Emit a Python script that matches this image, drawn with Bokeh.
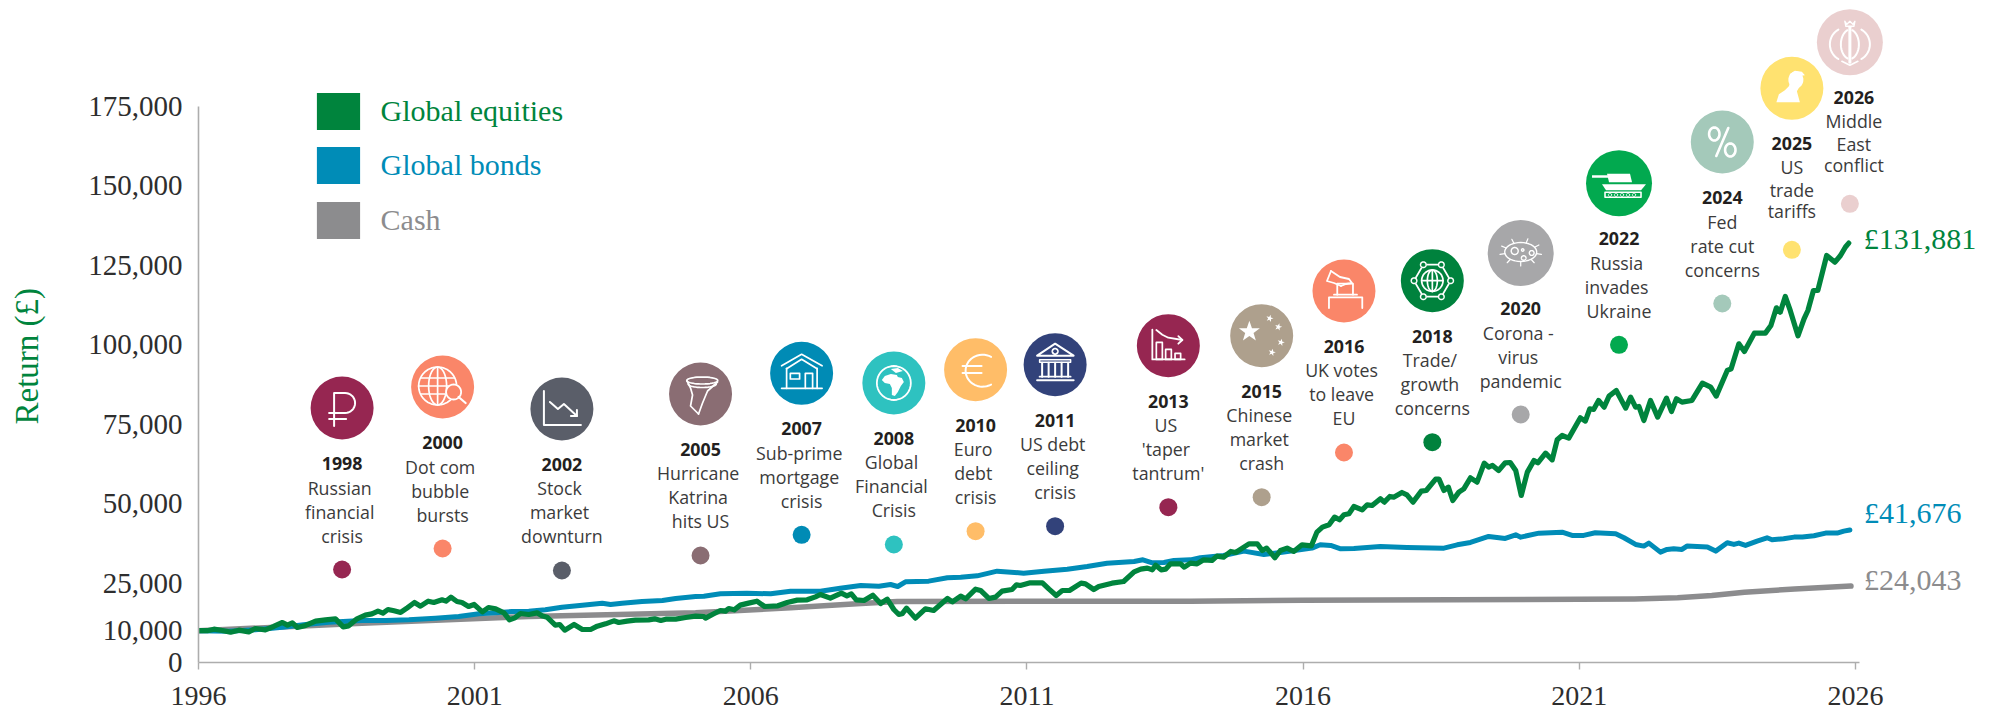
import math
from bokeh.plotting import figure
from bokeh.embed import file_html
from bokeh.resources import INLINE
from bokeh.core.properties import value
from bokeh.models import (ColumnDataSource, FixedTicker, Legend, LegendItem, NumeralTickFormatter,
                          PrintfTickFormatter, Range1d)

# ---------- series ----------
equity_years = [1996.00,1996.16,1996.28,1996.43,1996.58,1996.73,1996.91,1997.03,1997.21,1997.36,1997.52,1997.61,1997.70,1997.79,1997.94,
1998.12,1998.30,1998.48,1998.62,1998.72,1998.87,1999.02,1999.14,1999.25,1999.34,1999.43,1999.54,1999.66,1999.78,1999.91,
2000.02,2000.16,2000.26,2000.41,2000.48,2000.57,2000.68,2000.77,2000.89,2000.99,2001.14,2001.25,2001.38,2001.53,2001.63,2001.73,2001.83,2001.98,
2002.13,2002.22,2002.31,2002.46,2002.54,2002.63,2002.80,2002.95,2003.10,2003.22,2003.37,2003.52,2003.61,2003.76,2003.91,
2004.15,2004.26,2004.37,2004.46,2004.64,2004.82,2005.00,2005.15,2005.18,2005.33,2005.45,2005.54,2005.60,2005.70,2005.81,2005.96,
2006.11,2006.25,2006.49,2006.66,2006.84,2007.02,2007.17,2007.26,2007.44,2007.64,2007.74,2007.82,2007.91,
2008.05,2008.21,2008.35,2008.47,2008.59,2008.68,2008.74,2008.82,2008.98,2009.16,2009.31,2009.56,2009.65,2009.80,2009.89,
2010.07,2010.16,2010.31,2010.43,2010.55,2010.73,2010.81,2010.88,2011.06,2011.28,2011.40,2011.53,2011.64,2011.77,2011.98,
2012.06,2012.21,2012.30,2012.54,2012.75,2012.94,2013.06,2013.18,2013.27,2013.33,2013.43,2013.51,2013.60,2013.78,2013.85,2013.96,
2014.08,2014.20,2014.35,2014.44,2014.56,2014.69,2014.78,2014.90,2015.02,2015.17,2015.26,2015.34,2015.49,2015.59,2015.71,2015.83,2015.98,
2016.15,2016.25,2016.35,2016.47,2016.57,2016.66,2016.74,2016.83,2016.92,2017.07,2017.16,2017.25,2017.40,2017.47,2017.57,2017.64,2017.79,2017.88,2017.99,
2018.14,2018.23,2018.40,2018.46,2018.55,2018.63,2018.71,2018.82,2018.91,2019.03,2019.15,2019.28,2019.36,2019.43,2019.54,2019.66,2019.75,2019.85,2019.95,
2020.06,2020.18,2020.25,2020.39,2020.51,2020.60,2020.69,2020.81,2021.02,2021.11,2021.19,2021.26,2021.35,2021.45,2021.54,2021.67,2021.84,2021.93,
2022.02,2022.08,2022.17,2022.29,2022.42,2022.58,2022.67,2022.76,2022.86,2023.04,2023.23,2023.38,2023.48,2023.68,2023.75,2023.89,2023.99,
2024.17,2024.37,2024.47,2024.57,2024.64,2024.73,2024.82,2024.96,2025.07,2025.14,2025.24,2025.32,2025.48,2025.63,2025.73,2025.82,2025.88]
equity_values = [10000,10000,10485,10066,9542,10171,9647,10695,10275,11324,12581,11743,12476,11009,11638,
13000,13420,13734,11219,11533,13734,14887,15306,16144,15516,16668,16249,15725,17192,18869,
17716,19288,18869,19708,19288,20546,19184,18869,17612,18240,15935,17297,16878,15620,13420,14048,15411,15096,
15620,14677,14258,11743,11952,10171,11952,10380,10380,11428,12162,13105,12581,13000,13315,
13420,13734,13210,13629,13629,14153,14572,14471,13947,15309,16357,16148,16985,16567,18034,18663,
19291,17614,17824,18872,19606,19711,20654,21387,20235,21807,20968,21597,19711,
19501,21178,18558,19920,16671,15099,15309,17090,13947,16881,16357,20130,19082,20863,20025,
23065,22645,20130,20549,22435,22959,24427,24217,25056,25056,23065,21073,22645,22645,24951,
24741,22959,23902,24951,25475,28514,29352,29667,29143,30610,29143,29352,31029,31029,29981,31239,
31038,32296,32086,33448,33134,34916,34601,35964,37326,37326,35230,35964,32925,35230,35964,34916,37012,
36697,40994,42566,43300,45710,44872,46444,46758,49064,48016,49588,49378,51474,50426,52208,51998,53465,52732,50426,
53884,54094,57657,57657,54094,55142,50950,53570,54618,58076,56714,62688,61430,61954,60382,62792,62897,60382,52522,
59858,63526,62792,65832,63736,70024,71386,70559,76952,75903,79781,79571,82401,80305,83763,85545,79991,83449,
80305,80515,76113,82401,77161,83135,78943,82925,81877,82401,87851,86593,83763,91833,92357,100217,97807,
103571,103571,105981,111535,110173,115099,110697,102732,108077,110697,116985,116985,127989,125893,127989,130657,131881]

bond_years = [1996.00,1996.55,1997.03,1997.52,1997.94,1998.36,1998.96,1999.39,1999.81,2000.29,2000.71,2001.08,2001.38,2001.68,2001.98,
2002.28,2002.58,2002.95,2003.31,2003.46,2003.67,2004.03,2004.40,2004.64,2005.00,2005.15,2005.45,2005.93,2006.36,2006.72,
2007.26,2007.62,2007.99,2008.32,2008.53,2008.66,2008.80,2009.22,2009.56,2009.80,2010.10,2010.46,2010.94,2011.31,2011.73,
2012.09,2012.45,2012.94,2013.10,2013.27,2013.48,2013.66,2013.96,2014.14,2014.56,2014.93,2015.29,2015.59,2016.16,2016.31,2016.50,2016.68,2016.92,
2017.40,2017.88,2018.55,2018.79,2019.03,2019.36,2019.66,2019.85,2019.94,2020.27,2020.69,2020.87,2021.08,2021.29,2021.66,2021.81,
2022.02,2022.17,2022.26,2022.47,2022.59,2022.71,2022.86,2022.95,2023.32,2023.47,2023.68,2023.80,2023.89,2024.01,2024.22,2024.40,2024.49,
2024.70,2024.89,2025.04,2025.25,2025.46,2025.67,2025.79,2025.90]
bond_values = [10000,9856,10276,11114,11952,12686,13210,13210,13420,13944,14468,15306,15620,16040,16144,
16562,17402,18031,18660,18240,18660,19184,19498,20127,20756,20864,21597,21807,21597,22435,
22435,23379,24217,24007,24531,23903,25370,25580,26627,26837,27256,28724,28095,28724,29352,
30191,31239,31763,32287,31343,31448,32077,32287,32924,33658,35020,33972,34601,35964,37012,36802,35754,35859,
36488,36173,35964,37012,37745,39632,39003,40156,39422,40680,40994,39946,39957,40795,40481,39223,
37127,36603,37546,34716,35555,35765,35555,36603,36289,35031,37651,37127,37546,36813,38176,39223,38595,
38909,39433,39433,39852,40691,40691,41320,41676]

cash_years = [1996.00,1998.96,2001.98,2005.00,2006.72,2007.92,2008.65,2013.96,2016.00,2021.00,2022.00,2022.78,2023.40,2023.99,2024.90,2025.92]
cash_values = [10000,12369,14465,15619,17190,18449,19182,19287,19600,19906,20000,20346,21100,22107,23100,24043]

series_names = ["Global equities", "Global bonds", "Cash"]
series_colors = ["#00843D", "#008CB7", "#8C8C8E"]
end_labels = ["£131,881", "£41,676", "£24,043"]

y_ticks = [0, 10000, 25000, 50000, 75000, 100000, 125000, 150000, 175000]
x_ticks = [1996, 2001, 2006, 2011, 2016, 2021, 2026]

# ---------- events ----------
event_labels = ["1998","2000","2002","2005","2007","2008","2010","2011","2013","2015","2016","2018","2020","2022","2024","2025","2026"]
event_text = [["Russian","financial","crisis"],["Dot com","bubble","bursts"],["Stock","market","downturn"],
              ["Hurricane","Katrina","hits US"],["Sub-prime","mortgage","crisis"],["Global","Financial","Crisis"],
              ["Euro","debt","crisis"],["US debt","ceiling","crisis"],["US","'taper","tantrum'"],
              ["Chinese","market","crash"],["UK votes","to leave","EU"],["Trade/","growth","concerns"],
              ["Corona -","virus","pandemic"],["Russia","invades","Ukraine"],["Fed","rate cut","concerns"],
              ["US","trade","tariffs"],["Middle","East","conflict"]]
event_x = [1998.60,2000.42,2002.58,2005.09,2006.92,2008.59,2010.07,2011.51,2013.56,2015.25,2016.74,2018.34,2019.94,2021.72,2023.59,2024.85,2025.90]
event_level = [29245,35849,28931,33648,40157,37107,41289,42862,48836,51981,66038,69277,77987,99906,112893,129780,144245]
event_colors = ["#962651","#FA8669","#5A5E69","#8A6D73","#008BB5","#2EC2C0","#FFBD68","#32427A","#962651","#AEA08D",
                "#FA8669","#00823D","#A7A7A9","#02A94F","#A4C9BA","#FFE270","#EACFCF"]
event_radius = [31.5]*12 + [33,33,31.5,31.5,33]

# ---------- layout of the frame ----------
PX_YEAR = 55.23
PX_VALUE = 0.00318
FRAME_W, FRAME_H = 1798, 662

p = figure(width=1996, height=710, frame_width=FRAME_W, frame_height=FRAME_H,
           output_backend="svg", toolbar_location=None,
           x_range=Range1d(1996, 1996 + FRAME_W / PX_YEAR), y_range=Range1d(0, FRAME_H / PX_VALUE),
           min_border_left=198, min_border_right=0, min_border_top=0, min_border_bottom=48,
           outline_line_color=None, background_fill_color="white", border_fill_color="white")
p.grid.visible = False

AXC = "#ADADAD"
TICKC = "#2E2E2E"
SERIF = "Liberation Serif"
ax = p.xaxis[0]
ax.ticker = FixedTicker(ticks=x_ticks)
ax.formatter = PrintfTickFormatter(format="%d")
ax.bounds = (1996, 2026.07)
ax.axis_line_color = AXC; ax.axis_line_width = 1.6
ax.major_tick_line_color = AXC; ax.major_tick_line_width = 1.4
ax.major_tick_in = 0; ax.major_tick_out = 7; ax.minor_tick_line_color = None
ax.major_label_standoff = 17
ax.major_label_text_font = SERIF; ax.major_label_text_font_size = "28px"; ax.major_label_text_color = TICKC

ay = p.yaxis[0]
ay.ticker = FixedTicker(ticks=y_ticks)
ay.formatter = NumeralTickFormatter(format="0,0")
ay.bounds = (0, 175000)
ay.axis_line_color = AXC; ay.axis_line_width = 1.6
ay.major_tick_line_color = None; ay.minor_tick_line_color = None
ay.major_tick_in = 0; ay.major_tick_out = 0
ay.major_label_standoff = 16
ay.major_label_text_font = SERIF; ay.major_label_text_font_size = "29px"; ay.major_label_text_color = TICKC
# the title is centred on the frame; trailing no-break spaces lower it to where the reference has it
ay.axis_label = "Return (£)" + "\u00a0" * 6
ay.axis_label_standoff = 40
ay.axis_label_text_font = SERIF
ay.axis_label_text_font_size = "33px"
ay.axis_label_text_font_style = "normal"
ay.axis_label_text_color = series_colors[0]

# ---------- series ----------
p.line(cash_years, cash_values, line_color=series_colors[2], line_width=5.5, line_join="round", line_cap="round")
p.line(bond_years, bond_values, line_color=series_colors[1], line_width=5, line_join="round", line_cap="round")
p.line(equity_years, equity_values, line_color=series_colors[0], line_width=5.2, line_join="round", line_cap="round")

ends_x = [equity_years[-1], bond_years[-1], cash_years[-1]]
ends_y = [equity_values[-1], bond_values[-1], cash_values[-1]]
p.text(x=ends_x, y=ends_y, text=end_labels, x_offset=[15, 14, 13], y_offset=[-4.5, -17, -6.5],
       text_color=series_colors, text_font=value(SERIF), text_font_size="30px",
       text_align="left", text_baseline="middle")

# ---------- legend: one per colour, since its label colour follows the series ----------
nan = float("nan")
for i, (name, colour) in enumerate(zip(series_names, series_colors)):
    r = p.quad(left=[nan], right=[nan], top=[nan], bottom=[nan], fill_color=colour, line_color=None)
    lg = Legend(items=[LegendItem(label=name, renderers=[r])], location=(112.6, 528.5 - 54.5 * i),
                padding=0, margin=0, glyph_width=54, glyph_height=46, label_height=46, label_standoff=16,
                label_text_font=SERIF, label_text_font_size="30px", label_text_color=colour,
                label_text_baseline="middle", background_fill_alpha=0, border_line_color=None)
    p.add_layout(lg)

# ---------- event markers ----------
CIRCLE_RISE = 161.5
icon_y = [v + CIRCLE_RISE / PX_VALUE for v in event_level]
p.scatter(event_x, event_level, size=18, color=event_colors, line_color=None)
p.scatter(event_x, icon_y, size=[2 * r for r in event_radius], color=event_colors, line_color=None)

tx, ty, tt, to, tn = [], [], [], [], []
yx, yy, yo, yt = [], [], [], []
for i, lab in enumerate(event_labels):
    tight = lab in ("2025", "2026")
    offs = [-82.5, -60, -39] if tight else [-82, -58, -34]
    nudge = [-2.4, -2.4, 0]
    if lab in ("2024", "2025"):
        nudge = [0, 0, 0]
    if lab == "2026":
        nudge = [4, 4, 4]
    for s, o, n in zip(event_text[i], offs, nudge):
        tx.append(event_x[i]); ty.append(event_level[i]); tt.append(s); to.append(o); tn.append(n)
    yx.append(event_x[i]); yy.append(event_level[i]); yt.append(lab); yo.append(4 if lab == "2026" else 0)
p.text(x="x", y="y", text="t", x_offset="n", y_offset="o",
       source=ColumnDataSource(dict(x=tx, y=ty, t=tt, o=to, n=tn)),
       text_font=value("Open Sans"), text_font_size="17.8px", text_color="#3B3B3B",
       text_align="center", text_baseline="middle")
p.text(x="x", y="y", text="t", x_offset="n", y_offset=-106,
       source=ColumnDataSource(dict(x=yx, y=yy, t=yt, n=yo)),
       text_font=value("Open Sans"), text_font_size="17.8px", text_font_style="bold", text_color="#231F20",
       text_align="center", text_baseline="middle")

# ---------- white pictograms, drawn in pixels round each circle's centre ----------
def arc(cx, cy, rx, ry=None, a0=0, a1=360, n=36):
    ry = rx if ry is None else ry
    return [(cx + rx * math.cos(math.radians(a0 + (a1 - a0) * k / n)),
             cy + ry * math.sin(math.radians(a0 + (a1 - a0) * k / n))) for k in range(n + 1)]

def rect(x0, y0, x1, y1):
    return [(x0, y0), (x1, y0), (x1, y1), (x0, y1), (x0, y0)]

def star(cx, cy, r, turn=0):
    pts = []
    for k in range(10):
        rr = r if k % 2 == 0 else r * 0.4
        a = math.radians(-90 + turn + 36 * k)
        pts.append((cx + rr * math.cos(a), cy + rr * math.sin(a)))
    return pts

under, fills, over = [], [], []
def L(i, pts, w=1.7, top=False):
    (over if top else under).append((i, pts, w))
def F(i, pts, colour="white"):
    fills.append((i, pts, colour))

E = {lab: k for k, lab in enumerate(event_labels)}

i = E["1998"]
L(i, [(-8, 18), (-8, -15), (3, -15)] + arc(3, -5, 10, 10, -90, 90, 16) + [(-13, 5)], 2)
L(i, [(-13, 11), (4, 11)], 2)

i = E["2000"]
L(i, arc(-5, -1, 19))
L(i, arc(-5, -1, 9, 19))
L(i, [(-5, -20), (-5, 18)]); L(i, [(-24, -1), (14, -1)])
L(i, [(-22, -9), (12, -9)]); L(i, [(-22, 7), (6, 7)])
F(i, arc(11, 5, 8), event_colors[i])
L(i, arc(11, 5, 7.5), 1.8, True); L(i, [(16, 10), (23, 16)], 2.2, True)

i = E["2002"]
L(i, [(-18, -18), (-18, 16), (19, 16)], 2)
L(i, [(-12, -7), (-4, 0), (2, -5), (15, 7)], 2)
L(i, [(15, 1), (15, 7), (9, 7)], 2)

i = E["2005"]
L(i, arc(1.7, -13.5, 15.5, 3.5))
L(i, arc(1.7, -10, 14, 3.5, 0, 180))
L(i, [(-13.5, -13), (-10, -6), (-8, 1), (-10, 12), (-2, 20)]); L(i, [(-2, 20), (2, 9), (7, -3), (17, -12)])

i = E["2007"]
L(i, [(-20, -7.5), (0, -19), (20.5, -7.5)]); L(i, [(-15, -4.5), (0, -14), (15.5, -4.5)])
L(i, [(-15, -5), (-15, 15)]); L(i, [(15.5, -5), (15.5, 15)]); L(i, [(-20, 15), (20.5, 15)])
L(i, rect(-11.3, 0, -2, 5.7)); L(i, [(3.7, 15), (3.7, 0), (11, 0), (11, 15)])

i = E["2008"]
L(i, arc(0, 0, 17), 1.8)
F(i, [(-3, -14), (4, -15), (9, -12), (2, -10)])
F(i, [(-9, -7), (-3, -9), (3, -8), (4, -6), (8, -5), (10, -1), (7, 3), (4, 9), (1, 13), (-2, 12), (-2, 5), (-4, 1), (-9, 0), (-12, -3)])

i = E["2010"]
L(i, arc(7, 1, 17, 16, 300, 60, 30), 2)
L(i, [(-13, -3.7), (6, -3.7)], 2); L(i, [(-13, 3.2), (6, 3.2)], 2)

i = E["2011"]
L(i, [(-18, -9), (0, -21), (18.5, -9), (-18, -9)], 2)
L(i, arc(0, -13.3, 2.8))
L(i, rect(-15.5, -5, 15.5, -2.5), 1.5)
for cx in (-13, -6.5, 0, 6.5, 13):
    L(i, [(cx, -2), (cx, 12)], 2)
L(i, [(-15.5, 12), (15.5, 12)], 1.8); L(i, [(-18, 15.5), (18.5, 15.5)], 2)

i = E["2013"]
L(i, [(-16, -16), (-16, 13.7), (16.3, 13.7)], 1.8)
L(i, rect(-12, -3.3, -6, 13.7)); L(i, rect(-2.7, 3.7, 3, 13.7)); L(i, rect(6.7, 7.7, 12.3, 13.7))
L(i, [(-12, -15.7), (-6, -11), (0, -8), (14, -5.7)], 1.8); L(i, [(10, -9.5), (14, -5.7), (10, -2)], 1.8)

i = E["2015"]
F(i, star(-12.3, -4, 11))
for cx, cy in ((8, -17.3), (16.7, -8.7), (19.3, 6.7), (10.3, 16.7)):
    F(i, star(cx, cy, 3.8, 15))

i = E["2016"]
L(i, [(-15, 17), (-15, 6.3), (18.3, 6.3), (18.3, 17)], 1.8)
L(i, [(-10, 3.7), (13, 3.7)], 1.8)
L(i, [(-6.7, 3.7), (-6.7, -7.3), (9, -7.3), (9, 3.7)], 1.8)
L(i, [(-13, -20), (-17, -10), (-10, -8), (-3, -5)], 1.8)
L(i, [(-13, -20), (-4, -14), (5, -12), (8, -8), (2, -7), (-3, -5)], 1.8)

i = E["2018"]
hexa = [(-9, -16), (9, -16), (18.3, 0), (9, 16), (-9, 16), (-18.3, 0), (-9, -16)]
L(i, hexa)
for vx, vy in hexa[:-1]:
    F(i, arc(vx, vy, 3.2), event_colors[i])
    L(i, arc(vx, vy, 2.8), 1.5, True)
L(i, arc(0, 0, 10.7)); L(i, arc(0, 0, 5, 10.7)); L(i, [(0, -10.7), (0, 10.7)]); L(i, [(-10.7, 0), (10.7, 0)])

i = E["2020"]
L(i, arc(0, -1, 16, 9.5), 1.4)
L(i, arc(-6, -2, 3.5), 1.4); L(i, arc(3, 5, 2.3), 1.4); L(i, arc(11, 0, 2.4), 1.4); L(i, arc(2, -3, 1.2), 1.4)
for a in (10, 50, 90, 130, 170, 205, 245, 290, 330):
    c, s = math.cos(math.radians(a)), math.sin(math.radians(a))
    L(i, [(16 * c, -1 + 9.5 * s), (21 * c, -1 + 14 * s)], 1.2)

i = E["2022"]
F(i, rect(-27, -8, 8, -5.5)[:-1])
F(i, [(-12, -9.5), (11, -9.5), (13, -1), (-10, -1)])
F(i, [(-17, 1), (27, 1), (22, 7), (-13, 7)])
L(i, rect(-14, 9, 22, 14), 1.6)
for cx in (-9, -3, 3, 9, 15):
    L(i, arc(cx, 11.5, 1.6), 1.0)

i = E["2024"]
L(i, arc(-8, -8, 5.2, 6.5), 2.6); L(i, arc(8, 8, 5.2, 6.5), 2.6); L(i, [(6, -14), (-6, 14)], 2.6)

i = E["2025"]
F(i, arc(4, -8.5, 7.5, 8.5))
F(i, [(-15.5, 14), (-13, 6), (-7, 2), (-3, -2), (-2, -5), (8, -2), (5, 3), (8, 14)])
F(i, [(-2, -14), (3, -17.5), (10, -16.5), (13, -13), (6, -12), (-1, -9)])

i = E["2026"]
L(i, [(0, -15), (0, 20)], 3)
L(i, arc(-3, 2, 17, 17, 120, 240, 20), 2); L(i, arc(3, 2, 17, 17, 60, -60, 20), 2)
L(i, arc(1, 2, 10, 15, 110, 250, 20), 2); L(i, arc(-1, 2, 10, 15, 70, -70, 20), 2)
L(i, [(-5, -21), (-3, -18), (0, -21), (3, -18), (5, -21), (4, -16), (-4, -16), (-5, -21)], 1.4)
L(i, [(-8, 19), (0, 23), (8, 19)], 1.6)

def to_data(i, pts):
    return ([event_x[i] + dx / PX_YEAR for dx, dy in pts],
            [icon_y[i] - dy / PX_VALUE for dx, dy in pts])

def draw_lines(parts):
    if not parts:
        return
    xy = [to_data(i, pts) for i, pts, w in parts]
    src = ColumnDataSource(dict(xs=[a for a, b in xy], ys=[b for a, b in xy], w=[w for i, pts, w in parts]))
    p.multi_line("xs", "ys", line_width="w", line_color="white", line_join="round", line_cap="round", source=src)

draw_lines(under)
xy = [to_data(i, pts) for i, pts, c in fills]
p.patches([a for a, b in xy], [b for a, b in xy], fill_color=[c for i, pts, c in fills], line_color=None)
draw_lines(over)

open("out.html", "w").write(file_html(p, INLINE))
